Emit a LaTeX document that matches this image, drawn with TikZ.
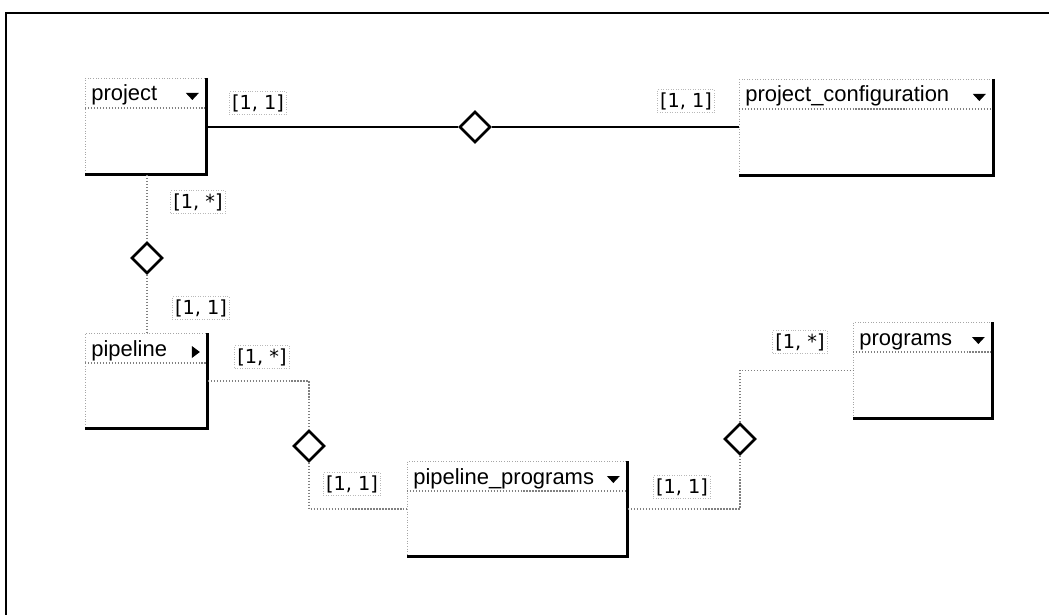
\documentclass[tikz,border=0pt]{standalone}
\usepackage{fontspec}
\setmainfont{Liberation Sans}
\newfontfamily\cardfont{DejaVu Sans}
\usetikzlibrary{positioning, shapes.geometric}
\tikzset{
  entity/.style={draw=gray!70, densely dotted, line width=0.5pt, inner sep=0pt, anchor=north west},
  title/.style={anchor=base west, inner sep=0pt, font=\fontsize{12.5}{14}\selectfont},
  card/.style={draw=gray!55, densely dotted, inner sep=1.5pt, font=\cardfont\fontsize{11}{12}\selectfont},
  rel/.style={diamond, draw, line width=1.5pt, fill=white, minimum width=0.62cm, minimum height=0.62cm, inner sep=0pt, aspect=1},
  solidlink/.style={line width=1.1pt},
  dotlink/.style={draw=gray, densely dotted, line width=0.7pt},
  shade/.style={line width=1.8pt},
  frame/.style={line width=1.3pt},
}

\begin{document}
\begin{tikzpicture}[x=0.02cm, y=-0.02cm]
    \useasboundingbox (0,0) rectangle (1049,615);
    \draw[frame] (5,13) -- (1049,13);
    \draw[frame] (6,13) -- (6,615);

    % tables
    \node[entity, minimum width=2.42cm, minimum height=1.92cm] (proj) at (85,78) {};
    \node[entity, minimum width=5.08cm, minimum height=1.92cm] (projconf) at (739,79) {};
    \node[entity, minimum width=2.44cm, minimum height=1.9cm] (pipe) at (85,333) {};
    \node[entity, minimum width=4.4cm, minimum height=1.9cm] (pipeprog) at (407,461) {};
    \node[entity, minimum width=2.78cm, minimum height=1.92cm] (progs) at (853,322) {};

    \node[title] (projt) at ([shift={(6,23)}]proj.north west) {project};
    \node[title] (projconft) at ([shift={(6,23)}]projconf.north west) {project\_configuration};
    \node[title] (pipet) at ([shift={(6,23)}]pipe.north west) {pipeline};
    \node[title] (pipeprogt) at ([shift={(6,23)}]pipeprog.north west) {pipeline\_programs};
    \node[title] (progst) at ([shift={(6,23)}]progs.north west) {programs};

    \foreach \e in {proj, projconf, pipe, pipeprog, progs} {
      \draw[dotlink] ([yshift=-0.6cm]\e.north west) -- ([yshift=-0.6cm]\e.north east);
      \draw[shade] (\e.north east) -- (\e.south east) -- (\e.south west);
    }
    \foreach \e in {proj, projconf, pipeprog, progs}
      \fill ([shift={(-21,15)}]\e.north east) -- ++(13,0) -- ++(-6.5,7) -- cycle;
    \fill ([shift={(-16,13)}]pipe.north east) -- ++(8,6) -- ++(-8,6) -- cycle;

    % relations
    \node[rel] (r1) at (475,127) {};
    \node[rel] (r2) at (147,258) {};
    \node[rel] (r3) at (309,446) {};
    \node[rel] (r4) at (740,439) {};

    \draw[solidlink] (proj.east |- r1) -- (r1.west);
    \draw[solidlink] (r1.east) -- (projconf.west |- r1);
    \draw[dotlink] (r2 |- proj.south) -- (r2.north);
    \draw[dotlink] (r2.south) -- (r2 |- pipe.north);
    \draw[dotlink] (pipe.east) -| (r3.north);
    \draw[dotlink] (r3.south) |- (pipeprog.west);
    \draw[dotlink] (pipeprog.east) -| (r4.south);
    \draw[dotlink] (r4.north) |- (progs.west);

    % cardinalities
    \node[card] (c1) at (258,103) {[1, 1]};
    \node[card] (c2) at (686,101) {[1, 1]};
    \node[card] (c3) at (198,202) {[1, *]};
    \node[card] (c4) at (201,308) {[1, 1]};
    \node[card] (c5) at (262,357) {[1, *]};
    \node[card] (c6) at (352,484) {[1, 1]};
    \node[card] (c7) at (682,487) {[1, 1]};
    \node[card] (c8) at (800,342) {[1, *]};
\end{tikzpicture}
\end{document}
